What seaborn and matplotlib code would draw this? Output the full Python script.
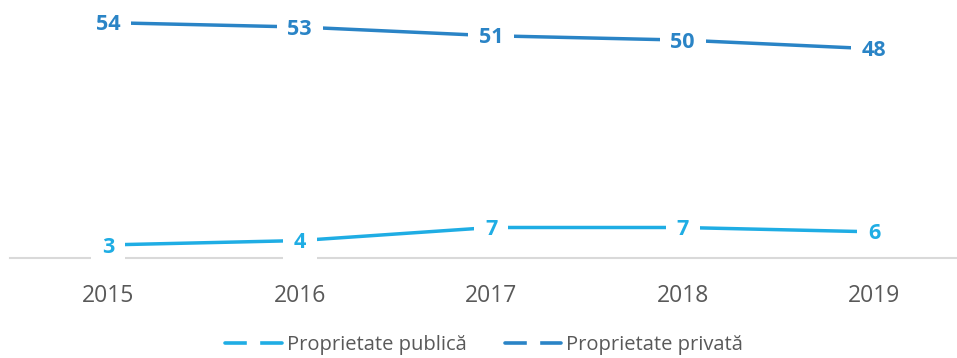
import matplotlib
matplotlib.use("Agg")
import matplotlib.pyplot as plt
from matplotlib.lines import Line2D
import seaborn as sns
import pandas as pd

years = ["2015", "2016", "2017", "2018", "2019"]
public_values = [3, 4, 7, 7, 6]
private_values = [54, 53, 51, 50, 48]
series_names = ["Proprietate publică", "Proprietate privată"]
series_colors = ["#1FADE4", "#2A84C6"]

df = pd.DataFrame({
    "year": years * 2,
    "value": public_values + private_values,
    "series": [series_names[0]] * len(years) + [series_names[1]] * len(years),
})

sns.set_theme(style="white")
plt.rcParams["font.family"] = ["Open Sans", "DejaVu Sans"]

fig = plt.figure(figsize=(9.57, 3.58), dpi=100)
ax = fig.add_axes([10 / 957, 100 / 358, 947 / 957, 258 / 358])

palette = dict(zip(series_names, series_colors))
sns.lineplot(data=df, x="year", y="value", hue="series", palette=palette,
             linewidth=2.5, sort=False, legend=False, ax=ax)

ax.set_xlim(-0.513, 4.433)
ax.set_ylim(0, 59.2)

# value labels sit on the points, boxed in white so the line breaks around them
for name, values in zip(series_names, [public_values, private_values]):
    for i, v in enumerate(values):
        ax.annotate(f"{v}", xy=(i, v), xytext=(0, -1.5), textcoords="offset points",
                    ha="center", va="center", fontsize=15.5, fontweight="bold",
                    color=palette[name], zorder=5, annotation_clip=False,
                    bbox=dict(boxstyle="square,pad=0.5", facecolor="white",
                              edgecolor="none"))

for side in ["left", "right", "top"]:
    ax.spines[side].set_visible(False)
ax.spines["bottom"].set_color("#D9D9D9")
ax.spines["bottom"].set_linewidth(1.5)
ax.spines["bottom"].set_zorder(1)

ax.set_yticks([])
ax.set_xlabel("")
ax.set_ylabel("")
ax.tick_params(axis="x", length=0, pad=19, labelsize=16.5, labelcolor="#595959")

handles = [Line2D([0], [0], color=c, linewidth=2.6, marker="s", markersize=9,
                  markerfacecolor="white", markeredgecolor="white")
           for c in series_colors]
fig.legend(handles, series_names, loc="center", bbox_to_anchor=(484 / 957, 1 - 345 / 358),
           ncol=2, frameon=False, fontsize=14.5, labelcolor="#595959",
           handlelength=2.8, handletextpad=0.25, columnspacing=1.9)

fig.savefig("out.png", dpi=100)
